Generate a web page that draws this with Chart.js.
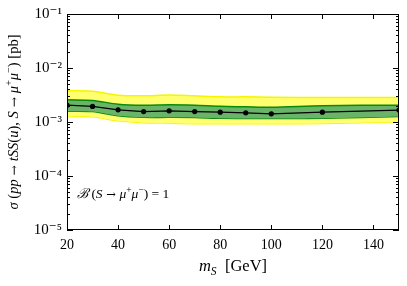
<!DOCTYPE html>
<html>
<head>
<meta charset="utf-8">
<script src="https://cdn.jsdelivr.net/npm/chart.js@4.4.0/dist/chart.umd.min.js"></script>
<style>
  html, body { margin: 0; padding: 0; background: #fff; }
</style>
</head>
<body>
<canvas id="chart" width="407" height="286"></canvas>
<script>
// masses (GeV) and cross sections (pb)
const massPoints = [20, 30, 40, 50, 60, 70, 80, 90, 100, 120, 150];
const central = [2.05e-3, 1.94e-3, 1.68e-3, 1.56e-3, 1.61e-3, 1.56e-3, 1.52e-3, 1.48e-3, 1.42e-3, 1.52e-3, 1.66e-3];
const oneSigmaUp = [2.57e-3, 2.50e-3, 2.14e-3, 2.04e-3, 2.08e-3, 2.04e-3, 1.95e-3, 1.91e-3, 1.87e-3, 2.00e-3, 2.05e-3];
const oneSigmaDown = [1.59e-3, 1.56e-3, 1.30e-3, 1.22e-3, 1.22e-3, 1.21e-3, 1.17e-3, 1.16e-3, 1.16e-3, 1.17e-3, 1.26e-3];
const twoSigmaUp = [3.78e-3, 3.70e-3, 3.14e-3, 3.05e-3, 3.17e-3, 3.05e-3, 2.92e-3, 2.92e-3, 2.88e-3, 2.84e-3, 2.84e-3];
const twoSigmaDown = [1.27e-3, 1.25e-3, 1.05e-3, 0.97e-3, 0.95e-3, 0.93e-3, 0.93e-3, 0.93e-3, 0.93e-3, 0.94e-3, 1.01e-3];

const xTickValues = [20, 40, 60, 80, 100, 120, 140];
const yTickValues = [1e-5, 1e-4, 1e-3, 1e-2, 1e-1];
const yTickLabels = ['10\u207B\u2075', '10\u207B\u2074', '10\u207B\u00B3', '10\u207B\u00B2', '10\u207B\u00B9'];

const SERIF = "'Liberation Serif', 'DejaVu Serif', serif";
const SYMBOL = "'DejaVu Serif', serif";

function pts(vals) {
  return massPoints.map((m, i) => ({ x: m, y: vals[i] }));
}

// draw a string made of runs (italic / superscript / subscript)
function drawRuns(ctx, runs, x, y, size, align) {
  const fontFor = r => {
    const s = (r.sh ? size * 0.7 : size) * (r.sym ? 0.85 : 1);
    return (r.it ? 'italic ' : '') + s + 'px ' + (r.sym ? SYMBOL : SERIF);
  };
  let total = 0;
  runs.forEach(r => { ctx.font = fontFor(r); total += ctx.measureText(r.t).width; });
  let cx = align === 'center' ? x - total / 2 : x;
  ctx.textBaseline = 'alphabetic';
  ctx.textAlign = 'left';
  runs.forEach(r => {
    ctx.font = fontFor(r);
    let dy = 0;
    if (r.sh === 'sup') dy = -size * 0.38;
    if (r.sh === 'sub') dy = size * 0.22;
    ctx.fillText(r.t, cx, y + dy);
    cx += ctx.measureText(r.t).width;
  });
}

const yTitleRuns = [
  { t: '\u03C3', it: true }, { t: ' (' }, { t: 'pp', it: true }, { t: ' \u2192 ', sym: true },
  { t: 'tSS', it: true }, { t: '(' }, { t: 'u', it: true }, { t: '), ' },
  { t: 'S', it: true }, { t: ' \u2192 ', sym: true }, { t: '\u03BC', it: true }, { t: '+', sh: 'sup' },
  { t: '\u03BC', it: true }, { t: '\u2212', sh: 'sup' }, { t: ') [pb]' }
];
const xTitleRuns = [{ t: 'm', it: true }, { t: 'S', it: true, sh: 'sub' }, { t: '  [GeV]' }];
const noteRuns = [
  { t: '\u212C', it: true }, { t: ' (' }, { t: 'S', it: true }, { t: ' \u2192 ', sym: true },
  { t: '\u03BC', it: true }, { t: '+', sh: 'sup' }, { t: '\u03BC', it: true },
  { t: '\u2212', sh: 'sup' }, { t: ') = 1' }
];

// frame, inward ticks and the extra texts
const framePlugin = {
  id: 'frame',
  afterDraw(chart) {
    const ctx = chart.ctx;
    const a = chart.chartArea;
    const xs = chart.scales.x, ys = chart.scales.y;
    ctx.save();
    ctx.strokeStyle = '#000';
    ctx.lineWidth = 1;
    ctx.strokeRect(a.left + 0.5, a.top + 0.5, a.right - a.left - 1, a.bottom - a.top - 1);
    ctx.beginPath();
    xTickValues.forEach(v => {
      const px = Math.round(xs.getPixelForValue(v)) + 0.5;
      ctx.moveTo(px, a.bottom); ctx.lineTo(px, a.bottom - 5);
      ctx.moveTo(px, a.top); ctx.lineTo(px, a.top + 5);
    });
    for (let d = -5; d <= -1; d++) {
      const py = Math.round(ys.getPixelForValue(Math.pow(10, d))) + 0.5;
      ctx.moveTo(a.left, py); ctx.lineTo(a.left + 6, py);
      ctx.moveTo(a.right, py); ctx.lineTo(a.right - 6, py);
      if (d < -1) {
        for (let m = 2; m <= 9; m++) {
          const q = Math.round(ys.getPixelForValue(m * Math.pow(10, d))) + 0.5;
          ctx.moveTo(a.left, q); ctx.lineTo(a.left + 3, q);
          ctx.moveTo(a.right, q); ctx.lineTo(a.right - 3, q);
        }
      }
    }
    ctx.stroke();

    ctx.fillStyle = '#000';
    drawRuns(ctx, noteRuns, 77, 198, 13.5, 'left');
    drawRuns(ctx, xTitleRuns, (a.left + a.right) / 2, 271, 16.5, 'center');
    ctx.translate(18, (a.top + a.bottom) / 2);
    ctx.rotate(-Math.PI / 2);
    drawRuns(ctx, yTitleRuns, 0, 0, 14.5, 'center');
    ctx.restore();
  }
};

const bandLine = { pointRadius: 0, tension: 0.3, borderWidth: 1.5 };

new Chart(document.getElementById('chart'), {
  type: 'line',
  data: {
    datasets: [
      { label: 'expected', data: pts(central), borderColor: '#000', borderWidth: 1.3,
        pointRadius: 2.6, pointBackgroundColor: '#000', pointBorderWidth: 0, tension: 0, fill: false },
      Object.assign({ label: '1 sigma up', data: pts(oneSigmaUp), borderColor: '#0a8a0a',
        backgroundColor: '#6ab46a', fill: '+1' }, bandLine),
      Object.assign({ label: '1 sigma down', data: pts(oneSigmaDown), borderColor: '#0a8a0a', fill: false }, bandLine),
      Object.assign({ label: '2 sigma up', data: pts(twoSigmaUp), borderColor: '#f5f500',
        backgroundColor: '#ffff70', fill: '+1' }, bandLine),
      Object.assign({ label: '2 sigma down', data: pts(twoSigmaDown), borderColor: '#f5f500', fill: false }, bandLine)
    ]
  },
  options: {
    responsive: false,
    animation: false,
    layout: { padding: { left: 0, right: 8, top: 13, bottom: 0 } },
    plugins: { legend: { display: false }, tooltip: { enabled: false } },
    scales: {
      x: {
        type: 'linear', min: 20, max: 150,
        afterBuildTicks: s => { s.ticks = xTickValues.map(v => ({ value: v })); },
        afterFit: s => { s.height = 56; },
        grid: { display: false, drawTicks: false },
        border: { display: false },
        ticks: { color: '#000', padding: 7, maxRotation: 0, font: { family: SERIF, size: 14 } }
      },
      y: {
        type: 'logarithmic', min: 1e-5, max: 1e-1,
        afterBuildTicks: s => { s.ticks = yTickValues.map(v => ({ value: v })); },
        afterFit: s => { s.width = 67; },
        grid: { display: false, drawTicks: false },
        border: { display: false },
        ticks: { color: '#000', padding: 5, font: { family: SERIF, size: 15 },
          callback: (v, i) => yTickLabels[i] }
      }
    }
  },
  plugins: [framePlugin]
});
</script>
</body>
</html>
